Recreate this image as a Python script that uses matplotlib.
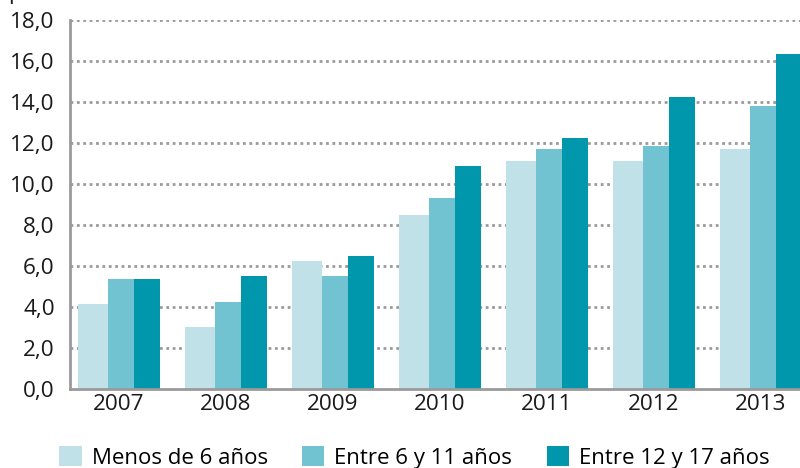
import matplotlib
matplotlib.use("Agg")
import matplotlib.pyplot as plt
import numpy as np

plt.rcParams['font.family'] = ['Open Sans', 'DejaVu Sans']

years = ['2007', '2008', '2009', '2010', '2011', '2012', '2013']
series_names = ['Menos de 6 años', 'Entre 6 y 11 años', 'Entre 12 y 17 años']
menos_6 = [4.13, 3.0, 6.24, 8.47, 11.14, 11.14, 11.7]
entre_6_11 = [5.38, 4.26, 5.53, 9.3, 11.69, 11.84, 13.8]
entre_12_17 = [5.38, 5.53, 6.5, 10.86, 12.26, 14.23, 16.33]
yticks = [0, 2, 4, 6, 8, 10, 12, 14, 16, 18]

colors = ['#c1e1e8', '#72c3d2', '#0096ab']
offsets = [-0.383, -0.103, 0.140]
widths = [0.28, 0.243, 0.243]

fig = plt.figure(figsize=(8, 4.68), dpi=100)
ax = fig.add_axes([0.0875, 0.1688, 0.9125, 0.7885])

x = np.arange(len(years))
for vals, c, off, w, name in zip([menos_6, entre_6_11, entre_12_17], colors, offsets, widths, series_names):
    ax.bar(x + off, vals, width=w, align='edge', color=c, label=name, zorder=3)

ax.set_xlim(-0.458, 6.364)
ax.set_ylim(0, 18)
ax.set_yticks(yticks)
ax.set_yticklabels([f"{v:.1f}".replace('.', ',') for v in yticks])
ax.set_xticks(x)
ax.set_xticklabels(years)
ax.tick_params(axis='both', length=0, labelsize=16.2, colors='#1a1a1a')
ax.tick_params(axis='y', pad=11)
ax.tick_params(axis='x', pad=3.5)

for v in yticks[1:]:
    ax.axhline(v, color='#9a9a9a', linestyle=(0, (1, 1.3)), linewidth=2, zorder=1)

for s in ['top', 'right']:
    ax.spines[s].set_visible(False)
for s in ['left', 'bottom']:
    ax.spines[s].set_color('#9a9a9a')
    ax.spines[s].set_linewidth(2)
    ax.spines[s].set_zorder(4)

fig.legend(loc='center', bbox_to_anchor=(0.518, 0.023), ncol=3, frameon=False,
           fontsize=16, handlelength=1.0, handleheight=1.05, handletextpad=0.45,
           columnspacing=1.55, borderaxespad=0, borderpad=0)

# cropped title remnant seen at the very top-left of the reference
fig.text(8 / 800, 1 + 1 / 468, 'p', fontsize=15.7, va='baseline', color='#1a1a1a')

fig.savefig('out.png', dpi=100)
